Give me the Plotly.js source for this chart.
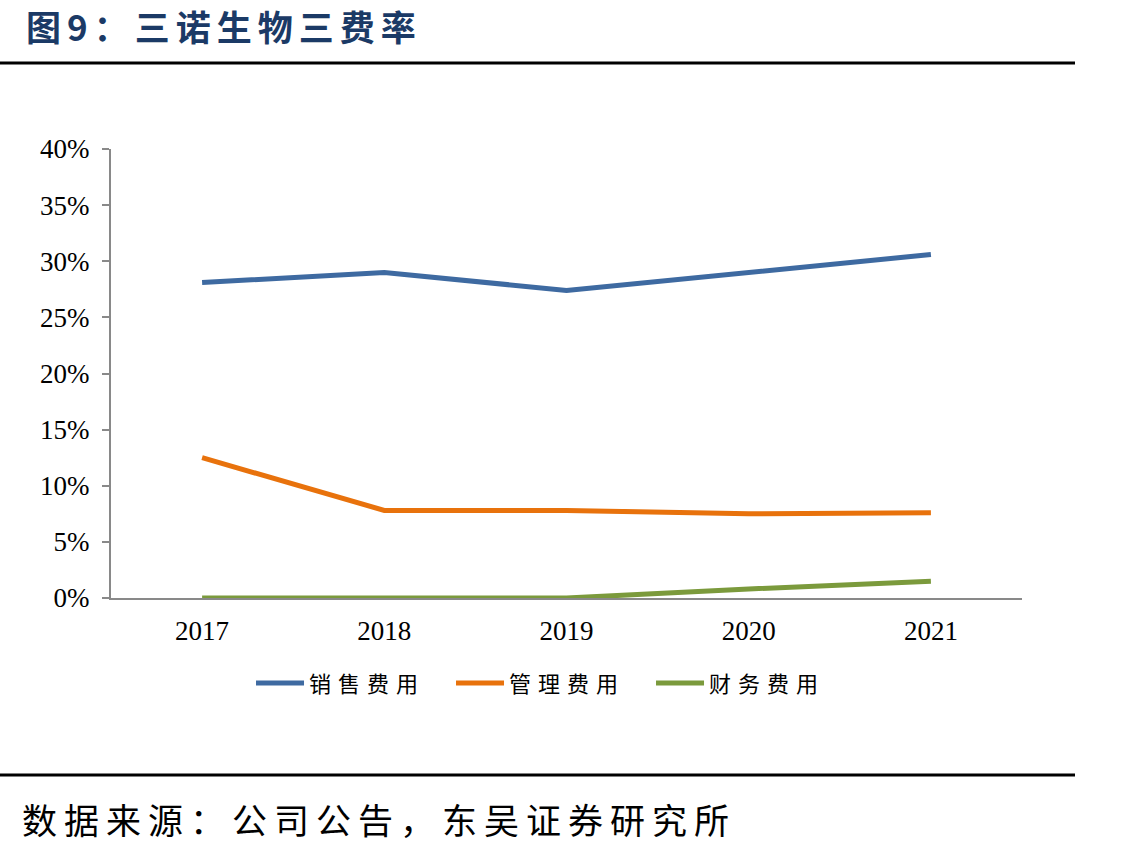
<!DOCTYPE html>
<html>
<head>
<meta charset="utf-8">
<script src="https://cdn.plot.ly/plotly-3.0.1.min.js"></script>
<style>
html,body{margin:0;padding:0;background:#fff;}
#chart{width:1146px;height:853px;}
</style>
</head>
<body>
<div id="chart"></div>
<script>
const years = ['2017', '2018', '2019', '2020', '2021'];
const seriesNames = ['销售费用', '管理费用', '财务费用'];
const sales = [0.281, 0.290, 0.274, 0.290, 0.306];
const admin = [0.125, 0.078, 0.078, 0.075, 0.076];
const finance = [0.000, 0.000, 0.000, 0.008, 0.015];
const yTicks = [0, 0.05, 0.10, 0.15, 0.20, 0.25, 0.30, 0.35, 0.40];
const yTickText = ['0%', '5%', '10%', '15%', '20%', '25%', '30%', '35%', '40%'];
const colors = ['#3E6AA1', '#E8720C', '#7B9A3C'];
const titleText = '图9：三诺生物三费率';
const sourceText = '数据来源：公司公告，东吴证券研究所';

const allSeries = [sales, admin, finance];
const traces = allSeries.map((vals, i) => ({
  x: years, y: vals,
  name: '<span style="letter-spacing:7px">' + seriesNames[i] + '</span>',
  type: 'scatter', mode: 'lines',
  line: {color: colors[i], width: 5}
}));

const serif = '"Liberation Serif", "Times New Roman", serif';
const cjk = '"Noto Sans CJK SC", sans-serif';

const layout = {
  width: 1146, height: 853,
  paper_bgcolor: '#fff', plot_bgcolor: '#fff',
  margin: {l: 111, r: 124, t: 149, b: 255, pad: 0},
  showlegend: true,
  legend: {
    orientation: 'h', x: 0.483, xanchor: 'center', y: -0.19, yanchor: 'middle',
    font: {family: cjk, size: 22, color: '#000'},
    itemwidth: 48, entrywidth: 137, entrywidthmode: 'pixels', tracegroupgap: 0
  },
  xaxis: {
    type: 'category', range: [-0.5, 4.5],
    showline: true, linecolor: '#898989', linewidth: 2,
    ticks: '', showgrid: false, zeroline: false, ticklabelstandoff: 8,
    tickfont: {family: serif, size: 27, color: '#000'},
    fixedrange: true
  },
  yaxis: {
    range: [0, 0.40], tickvals: yTicks, ticktext: yTickText,
    showline: true, linecolor: '#898989', linewidth: 2,
    ticks: 'outside', ticklen: 7, tickwidth: 2, tickcolor: '#898989',
    showgrid: false, zeroline: false, ticklabelstandoff: 7,
    tickfont: {family: serif, size: 27, color: '#000'},
    fixedrange: true
  },
  annotations: [
    {text: '<b><span style="letter-spacing:6px">' + titleText + '</span></b>', xref: 'paper', yref: 'paper', x: -111/911, y: (598-25)/449,
     xanchor: 'left', yanchor: 'middle', showarrow: false, xshift: 24,
     font: {family: cjk, size: 35, color: '#1B3A66'}},
    {text: '<span style="letter-spacing:7px">' + sourceText + '</span>', xref: 'paper', yref: 'paper', x: -111/911, y: (598-818)/449,
     xanchor: 'left', yanchor: 'middle', showarrow: false, xshift: 20,
     font: {family: cjk, size: 35, color: '#000'}}
  ],
  shapes: [
    {type: 'line', xref: 'paper', yref: 'paper', x0: -111/911, x1: (1075-111)/911,
     y0: (598-63)/449, y1: (598-63)/449, line: {color: '#000', width: 3}},
    {type: 'line', xref: 'paper', yref: 'paper', x0: -111/911, x1: (1075-111)/911,
     y0: (598-775)/449, y1: (598-775)/449, line: {color: '#000', width: 3}}
  ]
};

Plotly.newPlot('chart', traces, layout, {displayModeBar: false, staticPlot: true});
</script>
</body>
</html>
